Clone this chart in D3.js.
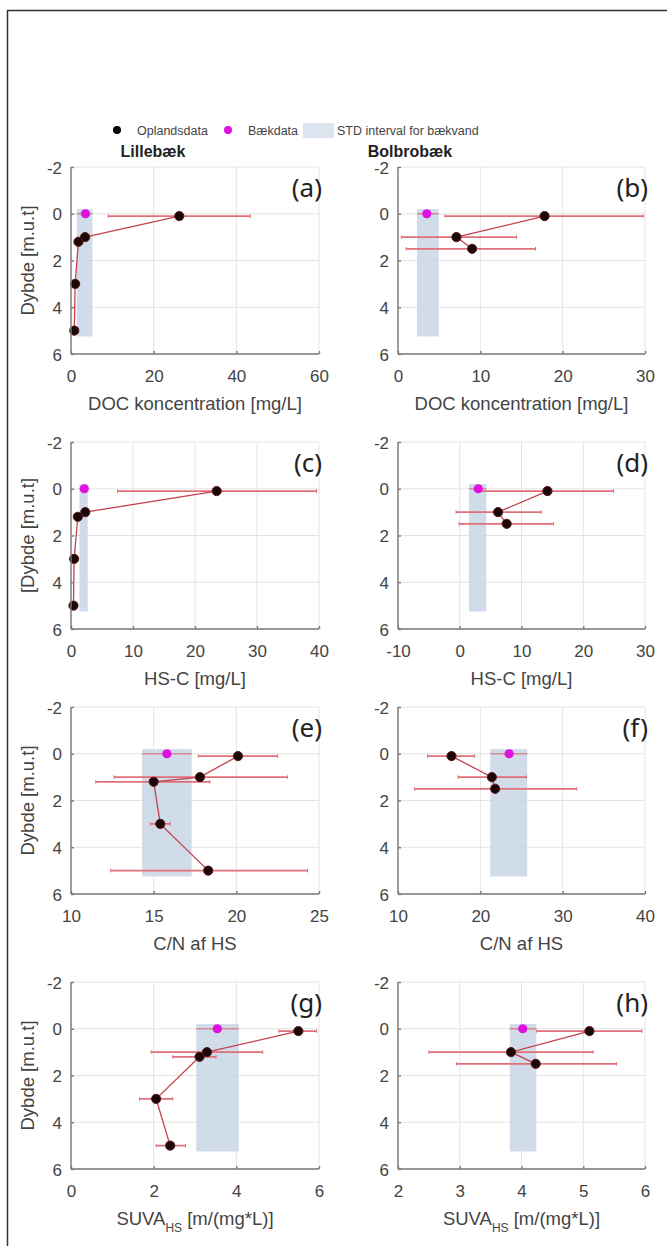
<!DOCTYPE html>
<html>
<head>
<meta charset="utf-8">
<script src="https://cdnjs.cloudflare.com/ajax/libs/d3/7.8.5/d3.min.js"></script>
<style>
    body { margin: 0; background: #fff; }
    svg { display: block; font-family: "Liberation Sans", Arial, sans-serif; }
    .grid line { stroke: #e4e4e4; stroke-width: 1; }
    .axis path, .axis line { stroke: #7a7a7a; stroke-width: 1.4; }
    .axis text { fill: #444; font-size: 17px; }
    .axis-label { fill: #444; font-size: 18.5px; }
    .panel-letter { fill: #222; font-size: 26px; font-family: "Noto Sans", sans-serif; }
    .site-title { fill: #222; font-size: 16px; font-weight: bold; }
    .legend-text { fill: #444; font-size: 12.5px; }
</style>
</head>
<body>
<div id="chart"></div>
<script>

// Depths (m.u.t) of the catchment samples
var depthLille = [0.1, 1.0, 1.2, 3.0, 5.0];
var depthBolb = [0.1, 1.0, 1.5];

// (a) DOC Lillebaek
var docLille   = [26.2, 3.4, 1.8, 1.0, 0.8];
var docLilleLo = [9.0, 2.9, 1.3, 0.6, 0.4];
var docLilleHi = [43.4, 3.9, 2.3, 1.4, 1.2];
// (b) DOC Bolbrobaek
var docBolb   = [17.8, 7.1, 9.0];
var docBolbLo = [5.7, 0.4, 1.0];
var docBolbHi = [29.8, 14.4, 16.7];
// (c) HS-C Lillebaek
var hscLille   = [23.5, 2.3, 1.1, 0.5, 0.4];
var hscLilleLo = [7.5, 2.0, 0.8, 0.3, 0.2];
var hscLilleHi = [39.6, 2.6, 1.4, 0.7, 0.6];
// (d) HS-C Bolbrobaek
var hscBolb   = [14.2, 6.2, 7.6];
var hscBolbLo = [3.2, -0.6, -0.1];
var hscBolbHi = [24.9, 13.2, 15.2];
// (e) C/N Lillebaek
var cnLille   = [20.1, 17.8, 15.0, 15.4, 18.3];
var cnLilleLo = [17.7, 12.6, 11.5, 14.8, 12.4];
var cnLilleHi = [22.5, 23.1, 18.4, 16.0, 24.3];
// (f) C/N Bolbrobaek
var cnBolb   = [16.5, 21.4, 21.8];
var cnBolbLo = [13.6, 17.3, 12.0];
var cnBolbHi = [19.3, 25.6, 31.7];
// (g) SUVA Lillebaek
var suvaLille   = [5.5, 3.29, 3.11, 2.06, 2.4];
var suvaLilleLo = [5.03, 1.94, 2.46, 1.66, 2.06];
var suvaLilleHi = [5.94, 4.64, 3.51, 2.46, 2.77];
// (h) SUVA Bolbrobaek
var suvaBolb   = [5.1, 3.83, 4.23];
var suvaBolbLo = [4.24, 2.5, 2.95];
var suvaBolbHi = [5.95, 5.16, 5.54];

// Stream water (baekdata) per panel a..h, mean and STD interval
var streamMean = [3.5, 3.5, 2.15, 3.0, 15.8, 23.5, 3.54, 4.02];
var streamLo   = [1.4, 2.3, 1.35, 1.5, 14.3, 21.2, 3.03, 3.81];
var streamHi   = [5.2, 4.95, 2.7, 4.3, 17.3, 25.7, 4.06, 4.24];
var streamDepth = 0;
var stdDepthRange = [-0.2, 5.25];

// Axes
var xDomains = [[0, 60], [0, 30], [0, 40], [-10, 30], [10, 25], [10, 40], [0, 6], [2, 6]];
var xTicks = [[0, 20, 40, 60], [0, 10, 20, 30], [0, 10, 20, 30, 40], [-10, 0, 10, 20, 30],
              [10, 15, 20, 25], [10, 20, 30, 40], [0, 2, 4, 6], [2, 3, 4, 5, 6]];
var yTicks = [-2, 0, 2, 4, 6];
var xLabels = ["DOC koncentration [mg/L]", "DOC koncentration [mg/L]", "HS-C [mg/L]", "HS-C [mg/L]",
               "C/N af HS", "C/N af HS", "SUVA", "SUVA"];
var yLabels = ["Dybde [m.u.t]", "", "[Dybde [m.u.t]", "", "Dybde [m.u.t]", "", "Dybde [m.u.t]", ""];
var letters = ["(a)", "(b)", "(c)", "(d)", "(e)", "(f)", "(g)", "(h)"];
var siteTitles = ["Lillebæk", "Bolbrobæk"];
var legendLabels = ["Oplandsdata", "Bækdata", "STD interval for bækvand"];

var seriesVals = [docLille, docBolb, hscLille, hscBolb, cnLille, cnBolb, suvaLille, suvaBolb];
var seriesLo = [docLilleLo, docBolbLo, hscLilleLo, hscBolbLo, cnLilleLo, cnBolbLo, suvaLilleLo, suvaBolbLo];
var seriesHi = [docLilleHi, docBolbHi, hscLilleHi, hscBolbHi, cnLilleHi, cnBolbHi, suvaLilleHi, suvaBolbHi];

var W = 667, H = 1246;
var svg = d3.select("#chart").append("svg")
    .attr("width", W)
    .attr("height", H);

// frame (only top and left edge visible in the crop)
svg.append("line").attr("x1", 7).attr("y1", 10.5).attr("x2", W).attr("y2", 10.5)
    .attr("stroke", "#333").attr("stroke-width", 1.5);
svg.append("line").attr("x1", 7.5).attr("y1", 10).attr("x2", 7.5).attr("y2", H)
    .attr("stroke", "#333").attr("stroke-width", 1.5);

// plain hyphen minus like the original figure
var tickFmt = function(d){ return (d < 0 ? "-" : "") + Math.abs(d); };


/*
 * One depth-profile panel
 */
PanelVis = function(_svg, _index, _box){
    this.svg = _svg;
    this.index = _index;
    this.box = _box;
    this.initVis();
};

PanelVis.prototype.initVis = function(){
    var vis = this;
    var i = vis.index;
    var isLeft = (i % 2 === 0);
    var depths = isLeft ? depthLille : depthBolb;

    vis.data = seriesVals[i].map(function(v, k){
        return { x: v, lo: seriesLo[i][k], hi: seriesHi[i][k], depth: depths[k] };
    });

    vis.width = vis.box.w;
    vis.height = vis.box.h;

    vis.g = vis.svg.append("g")
        .attr("transform", "translate(" + vis.box.x + "," + vis.box.y + ")");

    vis.x = d3.scaleLinear().domain(xDomains[i]).range([0, vis.width]);
    vis.y = d3.scaleLinear().domain([-2, 6]).range([0, vis.height]);

    // grid
    var grid = vis.g.append("g").attr("class", "grid");
    grid.selectAll(".vg").data(xTicks[i]).enter().append("line")
        .attr("x1", function(d){ return vis.x(d); })
        .attr("x2", function(d){ return vis.x(d); })
        .attr("y1", 0).attr("y2", vis.height);
    grid.selectAll(".hg").data(yTicks).enter().append("line")
        .attr("y1", function(d){ return vis.y(d); })
        .attr("y2", function(d){ return vis.y(d); })
        .attr("x1", 0).attr("x2", vis.width);

    // STD interval for stream water
    vis.g.append("rect")
        .attr("x", vis.x(streamLo[i]))
        .attr("width", vis.x(streamHi[i]) - vis.x(streamLo[i]))
        .attr("y", vis.y(stdDepthRange[0]))
        .attr("height", vis.y(stdDepthRange[1]) - vis.y(stdDepthRange[0]))
        .style("fill", "#c8d6e6")
        .style("opacity", 0.85);

    // error bars
    var capH = 1.8;
    var eb = vis.g.selectAll(".errbar").data(vis.data).enter().append("g").attr("class", "errbar");
    eb.append("line")
        .attr("x1", function(d){ return vis.x(d.lo); })
        .attr("x2", function(d){ return vis.x(d.hi); })
        .attr("y1", function(d){ return vis.y(d.depth); })
        .attr("y2", function(d){ return vis.y(d.depth); })
        .attr("stroke", "#e07078").attr("stroke-width", 1.7);
    eb.selectAll(".cap").data(function(d){ return [[d.lo, d.depth], [d.hi, d.depth]]; })
        .enter().append("line")
        .attr("x1", function(d){ return vis.x(d[0]); })
        .attr("x2", function(d){ return vis.x(d[0]); })
        .attr("y1", function(d){ return vis.y(d[1]) - capH; })
        .attr("y2", function(d){ return vis.y(d[1]) + capH; })
        .attr("stroke", "#e07078").attr("stroke-width", 1);

    // stream error bar
    vis.g.append("line")
        .attr("x1", vis.x(streamLo[i])).attr("x2", vis.x(streamHi[i]))
        .attr("y1", vis.y(streamDepth)).attr("y2", vis.y(streamDepth))
        .attr("stroke", "#d98a92").attr("stroke-width", 1.7);

    // connecting line
    var line = d3.line()
        .x(function(d){ return vis.x(d.x); })
        .y(function(d){ return vis.y(d.depth); });
    vis.g.append("path")
        .datum(vis.data)
        .attr("d", line)
        .attr("fill", "none")
        .attr("stroke", "#c4424c")
        .attr("stroke-width", 1.3);

    // catchment points
    vis.g.selectAll(".pt").data(vis.data).enter().append("circle")
        .attr("class", "pt")
        .attr("cx", function(d){ return vis.x(d.x); })
        .attr("cy", function(d){ return vis.y(d.depth); })
        .attr("r", 4.6)
        .style("fill", "#1a0808")
        .style("stroke", "#5a1818")
        .style("stroke-width", 1);

    // stream point
    vis.g.append("circle")
        .attr("cx", vis.x(streamMean[i]))
        .attr("cy", vis.y(streamDepth))
        .attr("r", 4.6)
        .style("fill", "#e010e0");

    // axes
    vis.xAxis = d3.axisBottom(vis.x).tickValues(xTicks[i]).tickSize(-3).tickPadding(16).tickFormat(tickFmt);
    vis.yAxis = d3.axisLeft(vis.y).tickValues(yTicks).tickSize(-3).tickPadding(9).tickFormat(tickFmt);

    vis.g.append("g")
        .attr("class", "x-axis axis")
        .attr("transform", "translate(0," + vis.height + ")")
        .call(vis.xAxis)
        .call(function(g){ g.select(".domain").attr("d", "M0,0H" + vis.width); })
        .selectAll("text").attr("dy", "0.71em");

    vis.g.append("g")
        .attr("class", "y-axis axis")
        .call(vis.yAxis)
        .call(function(g){ g.select(".domain").attr("d", "M0,0V" + vis.height); })
        .selectAll("text").attr("dy", "0.36em");

    // axis titles
    var xl = vis.g.append("text")
        .attr("class", "axis-label")
        .attr("x", vis.width / 2)
        .attr("y", vis.height + 56)
        .attr("text-anchor", "middle");
    if (xLabels[i] === "SUVA") {
        xl.append("tspan").text("SUVA");
        xl.append("tspan").attr("dy", 7).style("font-size", "12px").text("HS");
        xl.append("tspan").attr("dy", -7).text(" [m/(mg*L)]");
    } else {
        xl.text(xLabels[i]);
    }

    if (yLabels[i] !== "") {
        vis.g.append("text")
            .attr("class", "axis-label")
            .attr("transform", "translate(" + (28 - vis.box.x) + "," + (vis.height / 2) + ") rotate(-90)")
            .attr("text-anchor", "middle")
            .attr("dy", "0.35em")
            .text(yLabels[i]);
    }

    // panel letter
    vis.g.append("text")
        .attr("class", "panel-letter")
        .attr("x", vis.width + 3)
        .attr("y", 30)
        .attr("text-anchor", "end")
        .text(letters[i]);
};


// Panel layout
var colX = [71, 398];
var colW = [248, 247];
var rowY = [167, 442, 707, 982];
var panelH = 187;

var panels = [];
letters.forEach(function(l, i){
    var c = i % 2, r = Math.floor(i / 2);
    panels.push(new PanelVis(svg, i, { x: colX[c], y: rowY[r], w: colW[c], h: panelH }));
});

// Site titles
svg.append("text").attr("class", "site-title").attr("x", 153).attr("y", 157)
    .attr("text-anchor", "middle").text(siteTitles[0]);
svg.append("text").attr("class", "site-title").attr("x", 410).attr("y", 157)
    .attr("text-anchor", "middle").text(siteTitles[1]);

// Legend
var legend = svg.append("g").attr("class", "legend");
legend.append("circle").attr("cx", 117).attr("cy", 130).attr("r", 4).style("fill", "#000");
legend.append("text").attr("class", "legend-text").attr("x", 137).attr("y", 134.5).text(legendLabels[0]);
legend.append("circle").attr("cx", 228).attr("cy", 130).attr("r", 4).style("fill", "#e010e0");
legend.append("text").attr("class", "legend-text").attr("x", 248).attr("y", 134.5).text(legendLabels[1]);
legend.append("rect").attr("x", 303).attr("y", 123).attr("width", 31).attr("height", 15)
    .style("fill", "#dbe4ef");
legend.append("text").attr("class", "legend-text").attr("x", 337).attr("y", 134.5).text(legendLabels[2]);

</script>
</body>
</html>
